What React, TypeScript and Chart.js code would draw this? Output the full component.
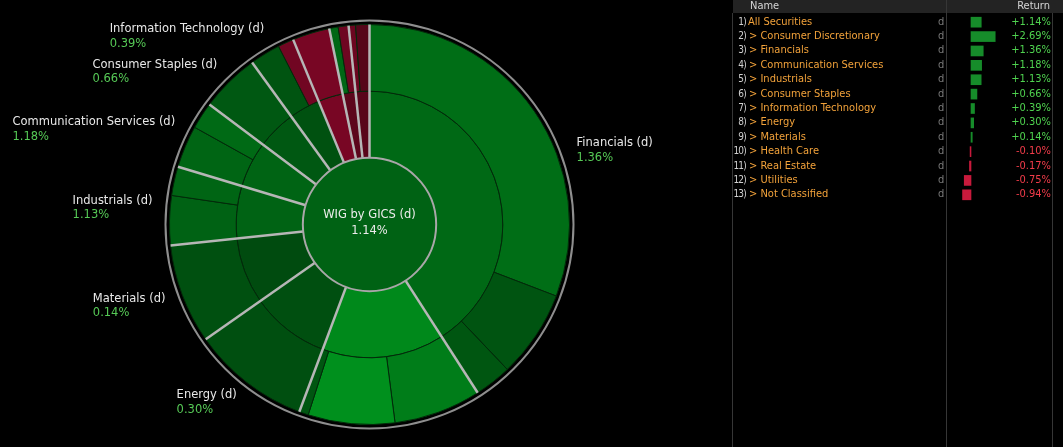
import React, { useEffect, useRef } from 'react';
import { Chart, registerables } from 'chart.js';

Chart.register(...registerables);

// ---------- DATA ----------
const INDEX_NAME = 'WIG by GICS (d)';
const INDEX_RETURN = 1.14;

// inner ring: GICS sectors (clockwise from 12 o'clock)
const SECTOR_NAMES = [
  'Financials', 'Consumer Discretionary', 'Energy', 'Materials', 'Industrials',
  'Communication Services', 'Consumer Staples', 'Information Technology',
  'Utilities', 'Real Estate', 'Health Care',
];
const SECTOR_WEIGHTS = [40.9, 14.8, 9.56, 8.06, 6.33, 5.58, 4.78, 3.75, 3.0, 1.56, 1.67];
const SECTOR_RETURNS = [1.36, 2.69, 0.3, 0.14, 1.13, 1.18, 0.66, 0.39, -0.75, -0.17, -0.1];

// outer ring: industries inside each sector (same clockwise order)
const INDUSTRY_PARENT = [0, 0, 0, 1, 1, 1, 2, 3, 4, 4, 5, 5, 6, 7, 7, 8, 9, 9, 10, 10];
const INDUSTRY_WEIGHTS = [30.83, 7.08, 3.0, 7.06, 7.0, 0.75, 9.56, 8.06, 4.0, 2.33, 3.42, 2.17, 4.78, 2.47, 1.28, 3.0, 0.72, 0.84, 0.56, 1.11];
const INDUSTRY_RETURNS = [1.6, 0.5, 0.6, 2.2, 3.0, 0.6, 0.3, 0.35, 1.1, 1.2, 1.2, 1.4, 0.66, 0.5, -0.6, -0.75, 1.3, -0.55, -0.5, -0.05];

// right-hand table
const TABLE_NAMES = [
  'All Securities', 'Consumer Discretionary', 'Financials', 'Communication Services',
  'Industrials', 'Consumer Staples', 'Information Technology', 'Energy', 'Materials',
  'Health Care', 'Real Estate', 'Utilities', 'Not Classified',
];
const TABLE_RETURNS = [1.14, 2.69, 1.36, 1.18, 1.13, 0.66, 0.39, 0.3, 0.14, -0.1, -0.17, -0.75, -0.94];

// ---------- STYLE ----------
const LABEL_FONT = '"DejaVu Sans", Verdana, sans-serif';
const FONT = '"DejaVu Sans Condensed", "Liberation Sans", Arial, sans-serif';
const ROW_H = 14.4;
const ROW0 = 21.7;
const BAR_MIN = -2.6667;
const BAR_MAX = 4.0;

function retColor(r: number): string {
  if (r >= 0) {
    const g = Math.min(72 + 24 * r, 165);
    return `rgb(0,${Math.round(g)},${Math.round(g * 0.2)})`;
  }
  const R = Math.min(84 + 48 * Math.abs(r), 185);
  return `rgb(${Math.round(R)},6,${Math.round(R * 0.3)})`;
}

const pct = (v: number) => `${v.toFixed(2)}%`;
const signedPct = (v: number) => `${v >= 0 ? '+' : ''}${v.toFixed(2)}%`;

const sunburstDecor = {
  id: 'sunburstDecor',
  afterDatasetsDraw(chart: any) {
    const ctx = chart.ctx as CanvasRenderingContext2D;
    const outerMeta = chart.getDatasetMeta(0);
    const sectorMeta = chart.getDatasetMeta(1);
    const first = sectorMeta.data[0] as any;
    const cx = first.x;
    const cy = first.y;
    const rIn = first.innerRadius;
    const rOut = (outerMeta.data[0] as any).outerRadius;
    ctx.save();
    // sector separators
    ctx.strokeStyle = '#b6b6b6';
    ctx.lineWidth = 2.5;
    sectorMeta.data.forEach((arc: any) => {
      const a = arc.startAngle;
      ctx.beginPath();
      ctx.moveTo(cx + rIn * Math.cos(a), cy + rIn * Math.sin(a));
      ctx.lineTo(cx + rOut * Math.cos(a), cy + rOut * Math.sin(a));
      ctx.stroke();
    });
    // centre ring
    ctx.strokeStyle = '#a8a8a8';
    ctx.lineWidth = 2;
    ctx.beginPath();
    ctx.arc(cx, cy, rIn, 0, Math.PI * 2);
    ctx.stroke();
    // outer ring
    ctx.strokeStyle = '#8e8e8e';
    ctx.lineWidth = 2;
    ctx.beginPath();
    ctx.arc(cx, cy, rOut + 4, 0, Math.PI * 2);
    ctx.stroke();
    // centre text
    ctx.font = `11.5px ${LABEL_FONT}`;
    ctx.fillStyle = '#ececec';
    ctx.textAlign = 'center';
    ctx.textBaseline = 'middle';
    ctx.fillText(INDEX_NAME, cx, cy - 9);
    ctx.fillText(pct(INDEX_RETURN), cx, cy + 7);
    // sector labels
    sectorMeta.data.forEach((arc: any, i: number) => {
      if (SECTOR_WEIGHTS[i] < 3.5) return;
      const mid = (arc.startAngle + arc.endAngle) / 2;
      const ax = cx + (rOut + 20) * Math.cos(mid);
      const ay = cy + (rOut + 20) * Math.sin(mid);
      if (ay + 20 > chart.height) return;
      const name = `${SECTOR_NAMES[i]} (d)`;
      const w = ctx.measureText(name).width;
      let left: number;
      let nameY: number;
      if (ax < cx) {
        left = ax - w + 2;
        nameY = ay - 3;
      } else {
        left = ax - 4;
        nameY = ay - 19;
      }
      ctx.textAlign = 'left';
      ctx.fillStyle = '#e8e8e8';
      ctx.fillText(name, left, nameY);
      ctx.fillStyle = SECTOR_RETURNS[i] >= 0 ? '#56c956' : '#e04050';
      ctx.fillText(pct(SECTOR_RETURNS[i]), left, nameY + 14.5);
    });
    ctx.restore();
  },
};

export default function App() {
  const sunRef = useRef<HTMLCanvasElement>(null);
  const barRef = useRef<HTMLCanvasElement>(null);

  useEffect(() => {
    document.body.style.margin = '0';
    document.body.style.background = '#000';
    const sun = new Chart(sunRef.current as HTMLCanvasElement, {
      type: 'doughnut',
      data: {
        labels: INDUSTRY_PARENT.map((p, i) => `${SECTOR_NAMES[p]} ${i}`),
        datasets: [
          {
            data: INDUSTRY_WEIGHTS,
            backgroundColor: INDUSTRY_RETURNS.map(retColor),
            borderColor: '#032a0a',
            borderWidth: 1,
          },
          {
            data: SECTOR_WEIGHTS,
            backgroundColor: SECTOR_RETURNS.map(retColor),
            borderColor: '#032a0a',
            borderWidth: 1,
          },
          {
            data: [1],
            backgroundColor: [retColor(INDEX_RETURN - 0.05)],
            borderWidth: 0,
          },
        ],
      } as any,
      options: {
        responsive: false,
        animation: false,
        events: [],
        cutout: 0,
        radius: 200,
        layout: { padding: 0 },
        plugins: { legend: { display: false }, tooltip: { enabled: false } },
      } as any,
      plugins: [sunburstDecor],
    });

    const bars = new Chart(barRef.current as HTMLCanvasElement, {
      type: 'bar',
      data: {
        labels: TABLE_NAMES,
        datasets: [
          {
            data: TABLE_RETURNS,
            backgroundColor: TABLE_RETURNS.map((v) => (v >= 0 ? '#168c2a' : '#c81a3c')),
            borderWidth: 0,
            barThickness: 10,
          },
        ],
      },
      options: {
        indexAxis: 'y',
        responsive: false,
        animation: false,
        events: [],
        layout: { padding: 0 },
        plugins: { legend: { display: false }, tooltip: { enabled: false } },
        scales: {
          x: { display: false, min: BAR_MIN, max: BAR_MAX },
          y: { display: false },
        },
      } as any,
    });

    return () => {
      sun.destroy();
      bars.destroy();
    };
  }, []);

  const text: React.CSSProperties = {
    position: 'absolute',
    fontFamily: FONT,
    fontSize: 11,
    whiteSpace: 'nowrap',
    height: ROW_H,
    lineHeight: `${ROW_H}px`,
  };

  return (
    <div style={{ position: 'fixed', left: 0, top: 0, width: 1063, height: 447, background: '#000', overflow: 'hidden' }}>
      <canvas ref={sunRef} width={739} height={449} style={{ position: 'absolute', left: 0, top: 0 }} />

      {/* table header */}
      <div style={{ position: 'absolute', left: 733, top: 0, width: 213, height: 13, background: '#232323' }} />
      <div style={{ position: 'absolute', left: 947, top: 0, width: 116, height: 13, background: '#232323' }} />
      <div style={{ ...text, left: 750, top: -1, height: 14, lineHeight: '14px', color: '#d4d4d4' }}>Name</div>
      <div style={{ ...text, left: 980, width: 70, top: -1, height: 14, lineHeight: '14px', color: '#d4d4d4', textAlign: 'right' }}>Return</div>

      {/* column lines */}
      <div style={{ position: 'absolute', left: 732, top: 13, width: 1, height: 434, background: '#363636' }} />
      <div style={{ position: 'absolute', left: 946, top: 0, width: 1, height: 447, background: '#363636' }} />
      <div style={{ position: 'absolute', left: 1052, top: 13, width: 1, height: 434, background: '#363636' }} />

      {TABLE_NAMES.map((name, i) => {
        const top = ROW0 + i * ROW_H - ROW_H / 2;
        const v = TABLE_RETURNS[i];
        return (
          <React.Fragment key={name}>
            <div style={{ ...text, top, left: 731, width: 15, textAlign: 'right', fontSize: 10, letterSpacing: -0.8, color: '#d0d0d0' }}>
              {`${i + 1})`}
            </div>
            <div style={{ ...text, top, left: i === 0 ? 748 : 749, color: '#f2a23a' }}>
              {i === 0 ? name : `> ${name}`}
            </div>
            <div style={{ ...text, top, left: 938, color: '#7a7a7a' }}>d</div>
            <div style={{ ...text, top, left: 990, width: 61, textAlign: 'right', color: v >= 0 ? '#4fd24f' : '#f23c4a' }}>
              {signedPct(v)}
            </div>
          </React.Fragment>
        );
      })}

      <canvas
        ref={barRef}
        width={60}
        height={187}
        style={{ position: 'absolute', left: 947, top: ROW0 - ROW_H / 2 }}
      />
    </div>
  );
}
